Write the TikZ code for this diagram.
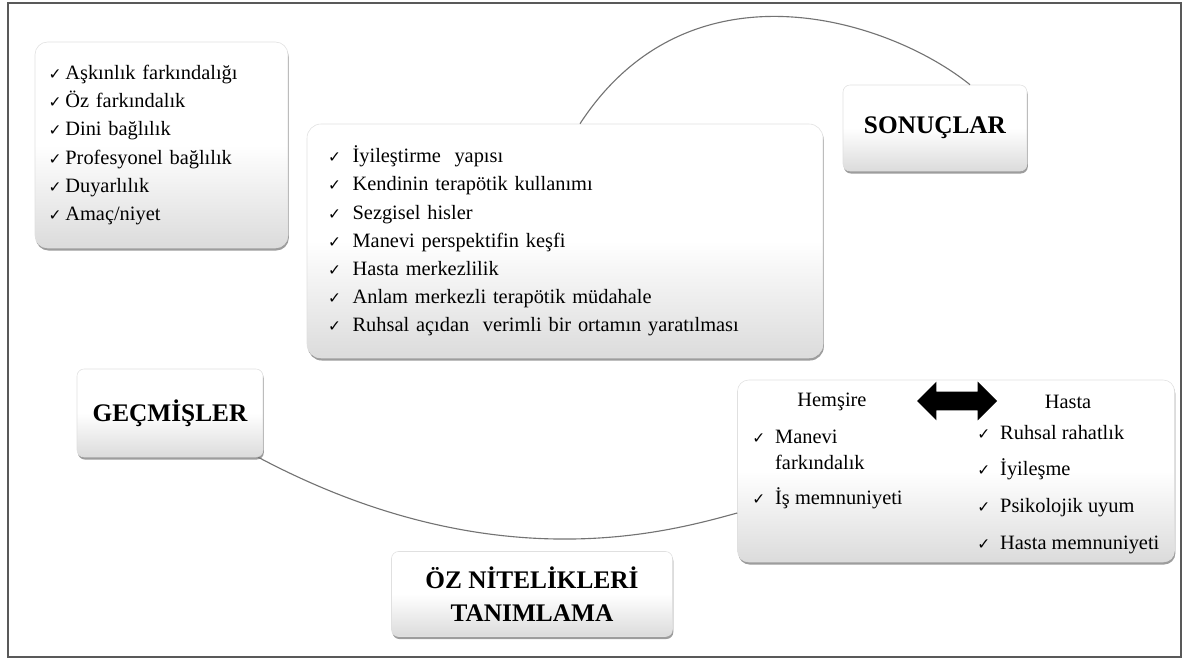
\documentclass[tikz,border=0pt]{standalone}
\usepackage{fontspec}
\setmainfont{Liberation Serif}
\newfontfamily\chkfont{DejaVu Sans}
\usetikzlibrary{shadows,shapes.arrows}

% one pixel of the original figure
\newcommand{\pix}{0.025cm}
% check marks
\newcommand{\chk}{{\chkfont\fontsize{11}{11}\selectfont ✓}}
\newcommand{\chkA}{\makebox[12pt][l]{\chk}}
\newcommand{\chkB}{\makebox[17.5pt][l]{\chk}}
\newcommand{\chkC}{\makebox[16.3pt][l]{\chk}}

\tikzset{
    kutu/.style={rounded corners=9pt, draw=black!12, top color=white, bottom color=black!14, middle color=white,
        drop shadow={shadow xshift=0.6pt, shadow yshift=-1.8pt, fill=black!55, opacity=0.7}},
    baslik/.style={kutu, rounded corners=5pt, font=\fontsize{18}{23.4}\selectfont\bfseries, align=center, inner sep=0pt},
    liste/.style={kutu, font=\fontsize{14.5}{20}\selectfont, align=left, inner sep=0pt},
    yazi/.style={inner sep=0pt, font=\fontsize{14.5}{18}\selectfont},
    yay/.style={draw=black!55, line width=0.8pt},
}

\begin{document}
\begin{tikzpicture}[x=\pix, y=-\pix]
    \useasboundingbox (0,0) rectangle (1185,661);

    % outer frame
    \draw[black!65, line width=1.4pt] (8,3) rectangle (1181,657);

    % left list
    \node[liste, minimum width=253*\pix, minimum height=206*\pix, text width=226*\pix] (ozellik) at (161.5,145)
        {\chkA Aşkınlık farkındalığı\\ \chkA Öz farkındalık\\ \chkA Dini bağlılık\\
         \chkA Profesyonel bağlılık\\ \chkA Duyarlılık\\ \chkA Amaç/niyet};

    % middle list
    \node[liste, rounded corners=10pt, minimum width=516*\pix, minimum height=234*\pix, text width=474*\pix] (surec) at (565,241)
        {\chkB İyileştirme\ \ yapısı\\ \chkB Kendinin terapötik kullanımı\\ \chkB Sezgisel hisler\\
         \chkB Manevi perspektifin keşfi\\ \chkB Hasta merkezlilik\\ \chkB Anlam merkezli terapötik müdahale\\
         \chkB Ruhsal açıdan\ \ verimli bir ortamın yaratılması};

    % titles
    \node[baslik, minimum width=184*\pix, minimum height=86*\pix] (sonuc) at (935,128) {SONUÇLAR};
    \node[baslik, minimum width=186*\pix, minimum height=88*\pix] (gecmis) at (170,413) {GEÇMİŞLER};
    \node[baslik, minimum width=281*\pix, minimum height=85*\pix] (oz) at (532,594) {ÖZ NİTELİKLERİ\\TANIMLAMA};

    % right box: nurse <-> patient
    \node[kutu, rounded corners=8pt, minimum width=437*\pix, minimum height=182*\pix] (etki) at (956,471) {};
    \node[yazi] (hemsire) at (832,402) {Hemşire};
    \node[yazi] (hasta) at (1068,402) {Hasta};
    \node[double arrow, fill=black, minimum height=80*\pix, inner xsep=0pt, inner ysep=9*\pix,
        double arrow head extend=10*\pix] (ok) at (957,401) {};
    \node[yazi, anchor=north west, align=left] (hemlist) at (752,430)
        {\chkC Manevi\\ \makebox[16.3pt]{}farkındalık\\[7pt] \chkC İş memnuniyeti};
    \node[yazi, anchor=north west, align=left, font=\fontsize{14.5}{26}\selectfont] (hastalist) at (977,425)
        {\chkC Ruhsal rahatlık\\ \chkC İyileşme\\ \chkC Psikolojik uyum\\ \chkC Hasta memnuniyeti};

    % arcs
    \draw[yay] ([xshift=15*\pix]surec.north) .. controls (690,-45) and (890,20) .. ([xshift=35*\pix]sonuc.north);
    \draw[yay] ([xshift=-5*\pix]gecmis.south east) .. controls (493,582) and (668,532) .. ([yshift=-42*\pix]etki.west);

\end{tikzpicture}
\end{document}
